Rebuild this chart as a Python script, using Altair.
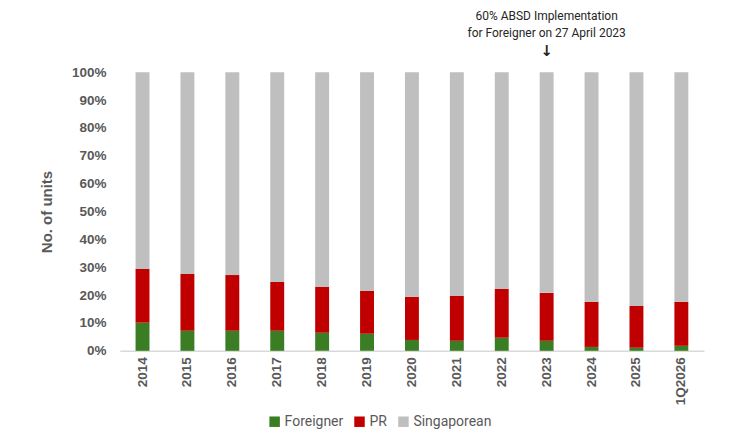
"""Stacked share of units by buyer residency, 2014 to 1Q2026."""

import altair as alt
import pandas as pd

PERIODS = ['2014', '2015', '2016', '2017', '2018', '2019', '2020',
           '2021', '2022', '2023', '2024', '2025', '1Q2026']
FOREIGNER = [10.1, 7.2, 7.2, 7.2, 6.5, 6.1, 3.9, 3.6, 4.7, 3.6, 1.4, 1.1, 1.8]
PR = [19.3, 20.4, 20.0, 17.5, 16.4, 15.4, 15.5, 16.1, 17.5, 17.2, 16.2, 15.0, 15.8]
SINGAPOREAN = [70.6, 72.4, 72.8, 75.3, 77.1, 78.5, 80.6, 80.3, 77.8, 79.2, 82.4, 83.9, 82.4]

GROUPS = ['Foreigner', 'PR', 'Singaporean']
GROUP_COLOURS = ['#3A7D22', '#C00000', '#BFBFBF']
NOTE_LINES = ['60% ABSD Implementation', 'for Foreigner on 27 April 2023', '↓']
NOTE_OFFSETS = [-56, -39, -21]

AXIS_FONT = 'Liberation Sans'
TEXT_FONT = 'Roboto'
GREY_TEXT = '#595959'

rows = []
for i, period in enumerate(PERIODS):
    for rank, (group, values) in enumerate(zip(GROUPS, [FOREIGNER, PR, SINGAPOREAN])):
        rows.append({'period': period, 'group': group, 'share': values[i], 'rank': rank})
data = pd.DataFrame(rows)

bars = alt.Chart(data).mark_bar().encode(
    x=alt.X('period:N', sort=PERIODS, title=None,
            scale=alt.Scale(paddingInner=0.69, paddingOuter=0.35),
            axis=alt.Axis(labelAngle=270, labelAlign='right', labelBaseline='middle',
                          labelFont=AXIS_FONT, labelFontSize=13.5, labelFontWeight='bold',
                          labelColor=GREY_TEXT, labelPadding=6, ticks=False,
                          labelOverlap=False, labelLimit=100,
                          domainColor='#D9D9D9', domainWidth=1.5)),
    y=alt.Y('share:Q', stack='normalize', title='No. of units',
            scale=alt.Scale(domain=[0, 1], nice=False),
            axis=alt.Axis(format='.0%', values=[i / 10 for i in range(11)],
                          grid=False, domain=False, ticks=False,
                          labelFont=AXIS_FONT, labelFontSize=13.5, labelFontWeight='bold',
                          labelColor=GREY_TEXT, labelPadding=14,
                          titleFont=AXIS_FONT, titleFontSize=15, titleFontWeight='bold',
                          titleColor=GREY_TEXT, titlePadding=17)),
    color=alt.Color('group:N', sort=GROUPS, title=None,
                    scale=alt.Scale(domain=GROUPS, range=GROUP_COLOURS),
                    legend=alt.Legend(orient='none', direction='horizontal',
                                      legendX=148, legendY=343,
                                      symbolType='square', symbolSize=110,
                                      symbolStrokeWidth=0, columnPadding=9,
                                      labelFont=TEXT_FONT, labelFontSize=14,
                                      labelColor=GREY_TEXT, labelOffset=3)),
    order=alt.Order('rank:Q'),
)

# annotation above the 2023 bar, one text layer per line
note_layers = []
for line, offset in zip(NOTE_LINES, NOTE_OFFSETS):
    is_arrow = line == '↓'
    note_layers.append(
        alt.Chart(pd.DataFrame({'period': ['2023'], 'line': [line]})).mark_text(
            font='DejaVu Sans' if is_arrow else TEXT_FONT,
            fontSize=15 if is_arrow else 12,
            fontWeight='bold' if is_arrow else 'normal',
            color='#262626', baseline='middle'
        ).encode(
            x=alt.X('period:N', sort=PERIODS),
            y=alt.value(offset),
            text='line:N',
        )
    )

chart = alt.layer(bars, *note_layers).properties(
    width=585,
    height=279,
    autosize=alt.AutoSizeParams(type='none'),
    padding={'left': 112, 'top': 64, 'right': 20, 'bottom': 83},
).configure_view(stroke=None)

chart.save('out.html', embed_options={'renderer': 'svg', 'actions': False})
